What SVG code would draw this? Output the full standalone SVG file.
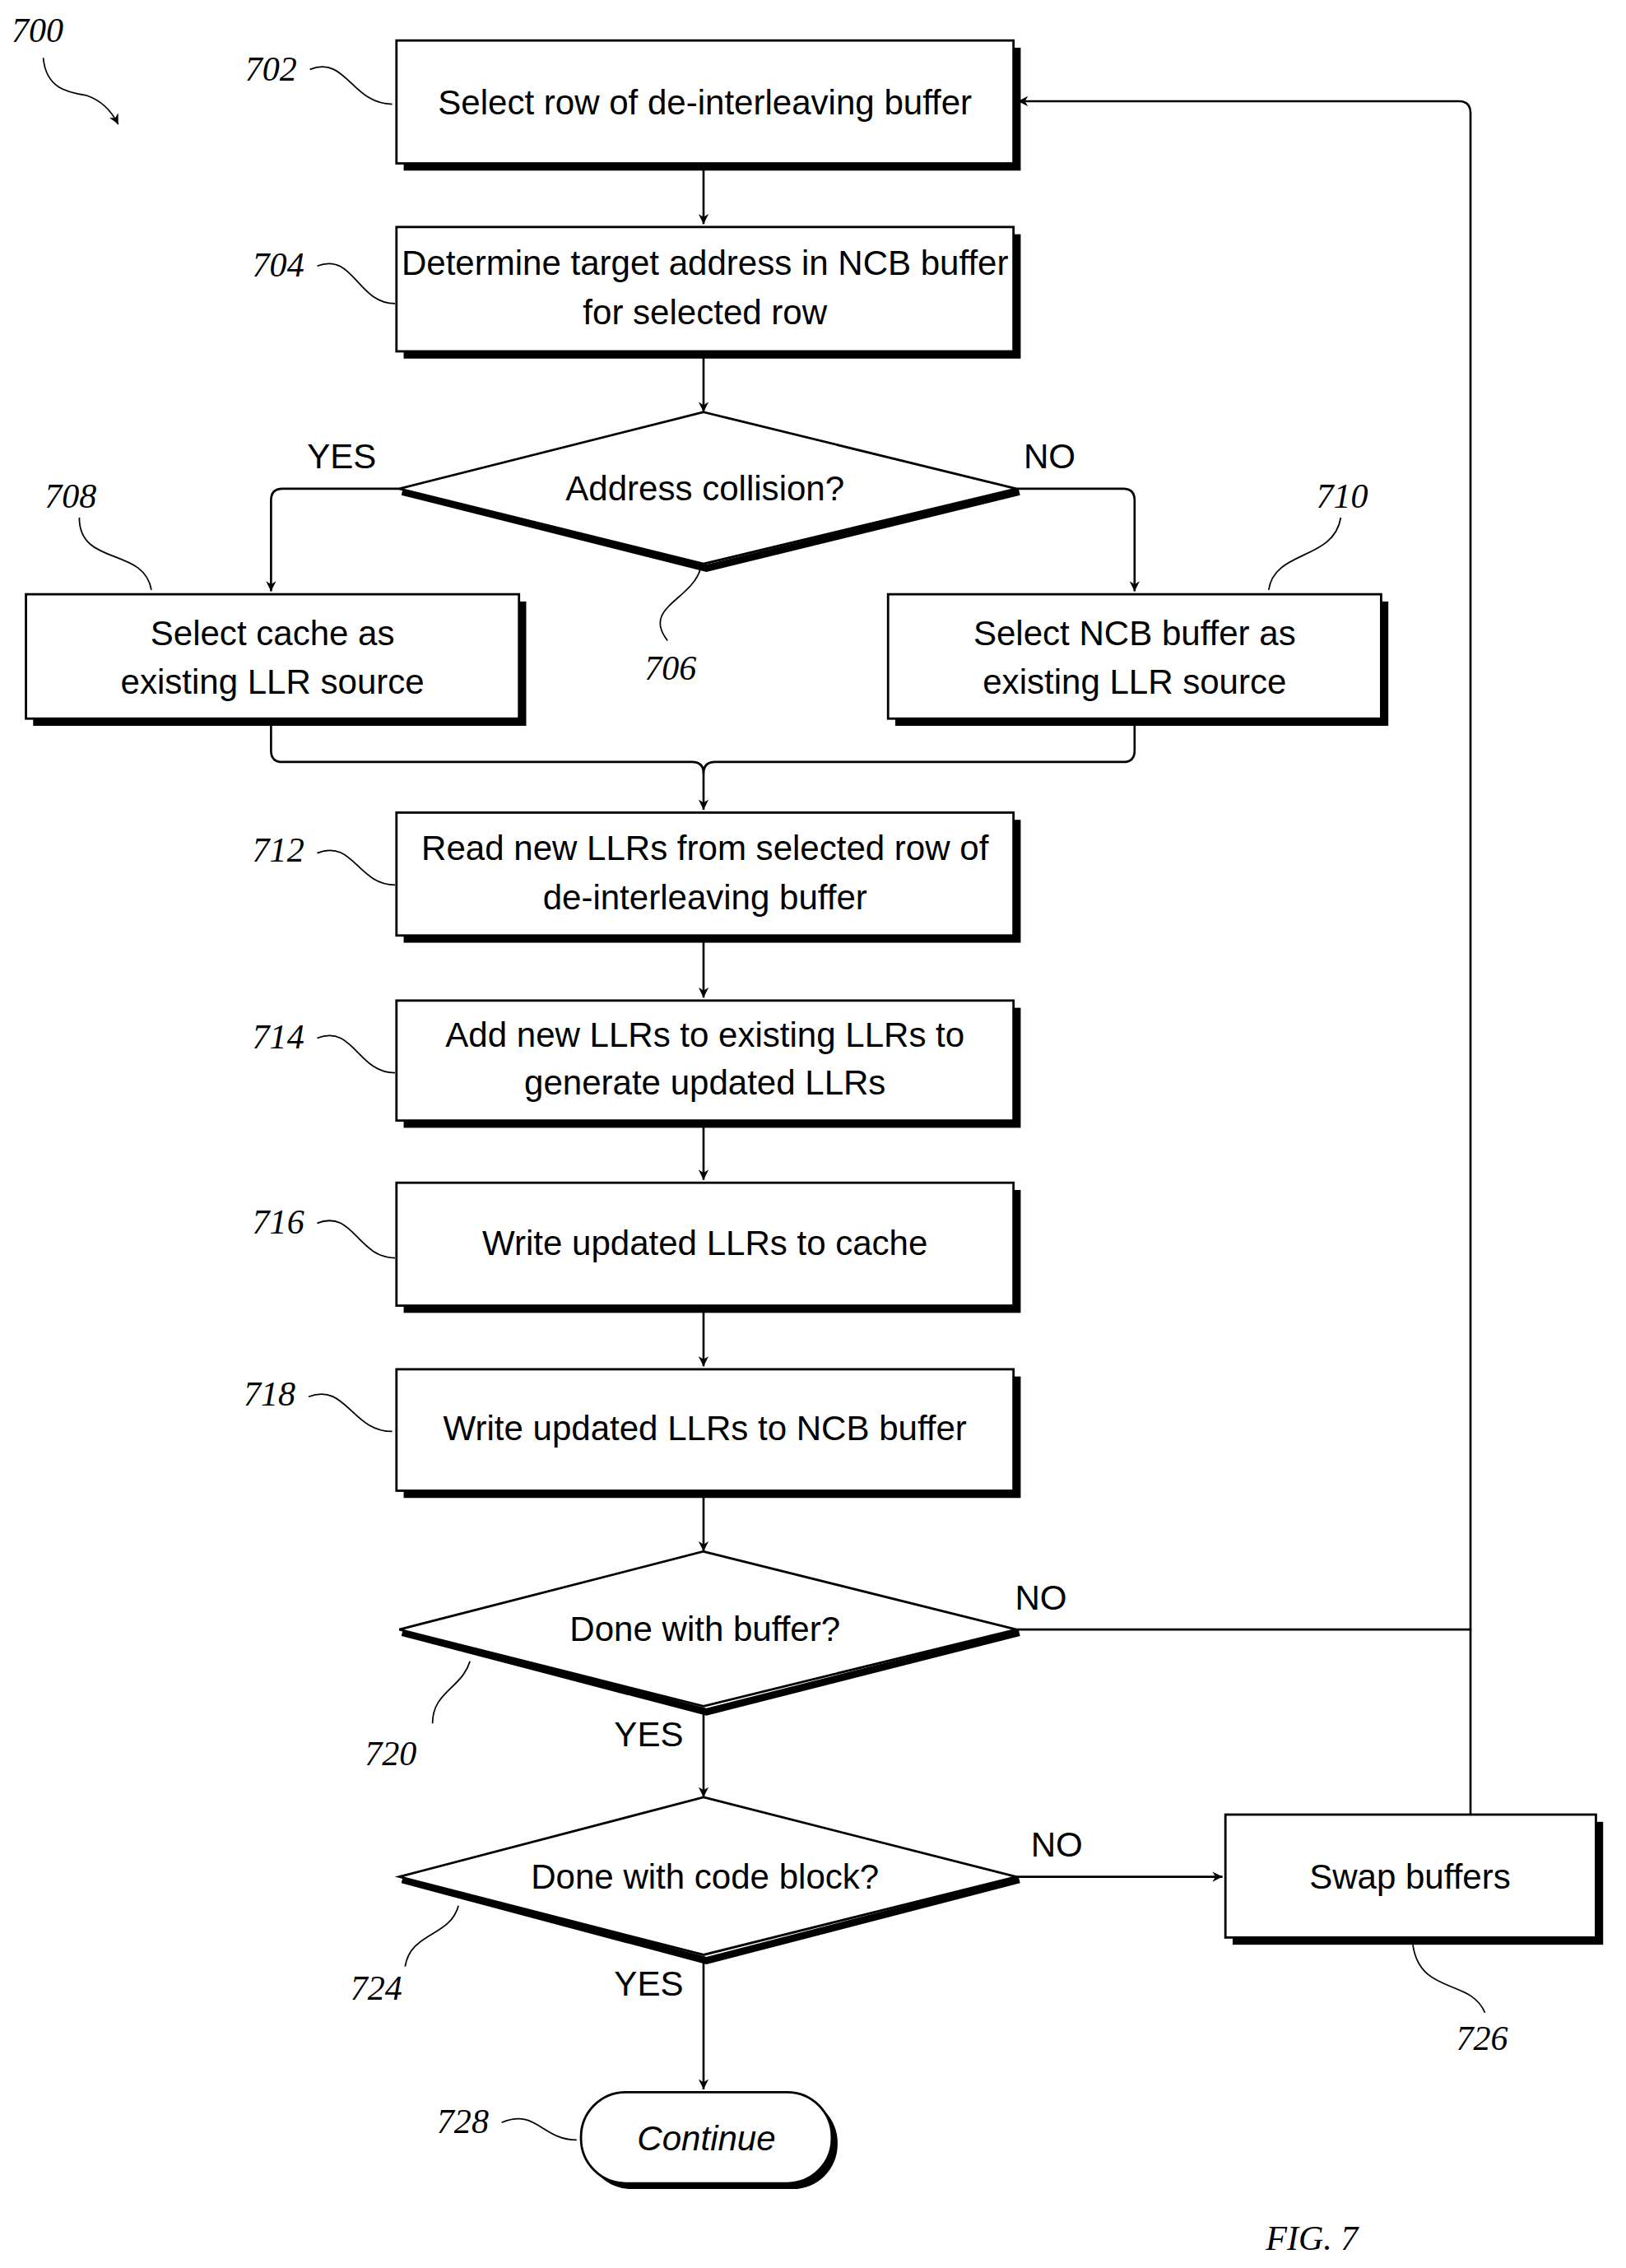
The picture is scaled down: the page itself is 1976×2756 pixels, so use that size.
<svg xmlns="http://www.w3.org/2000/svg" width="1976" height="2756" viewBox="0 0 1976 2756">
<defs>
<marker id="ah" viewBox="0 0 10 10" refX="10" refY="5" markerWidth="7" markerHeight="7" orient="auto" markerUnits="userSpaceOnUse"><path d="M0,0 L10,5 L0,10 L3,5 z" fill="#000"/></marker>
<marker id="ah2" viewBox="0 0 10 10" refX="10" refY="5" markerWidth="12" markerHeight="12" orient="auto" markerUnits="userSpaceOnUse"><path d="M0,0 L10,5 L0,10 L3,5 z" fill="#000"/></marker>
</defs>
<style>
.b{fill:#fff;stroke:#000;stroke-width:1.6}
.s{fill:#000}
.t{font-family:"Liberation Sans Narrow","Liberation Sans",Arial,sans-serif;font-size:24px;text-anchor:middle;fill:#000}
.r{font-family:"Liberation Serif","Times New Roman",serif;font-style:italic;font-size:24px;fill:#000}
.c{fill:none;stroke:#000;stroke-width:1.5}
.q{fill:none;stroke:#000;stroke-width:1}
</style>
<rect width="1976" height="2756" fill="#fff"/>
<g transform="scale(1.752,1.757)">
<g id="connectors">
<path class="c" d="M488,113 V155" marker-end="url(#ah)"/>
<path class="c" d="M488,243 V285" marker-end="url(#ah)"/>
<path class="c" d="M277,338 H196 Q188,338 188,346 V409" marker-end="url(#ah)"/>
<path class="c" d="M705,338 H779 Q787,338 787,346 V409" marker-end="url(#ah)"/>
<path class="c" d="M188,497 V519 Q188,527 196,527 H480 Q488,527 488,535 V560" marker-end="url(#ah)"/>
<path class="c" d="M787,497 V519 Q787,527 779,527 H496 Q488,527 488,535"/>
<path class="c" d="M488,647 V690" marker-end="url(#ah)"/>
<path class="c" d="M488,775 V816" marker-end="url(#ah)"/>
<path class="c" d="M488,903 V945" marker-end="url(#ah)"/>
<path class="c" d="M488,1031 V1073" marker-end="url(#ah)"/>
<path class="c" d="M705,1127 H1020 V78 Q1020,70 1012,70 H706" marker-end="url(#ah)"/>
<path class="c" d="M1020,1255 V1127"/>
<path class="c" d="M488,1182 V1243" marker-end="url(#ah)"/>
<path class="c" d="M705,1298 H848" marker-end="url(#ah)"/>
<path class="c" d="M488,1354 V1445" marker-end="url(#ah)"/>
<text class="t" x="237" y="324">YES</text>
<text class="t" x="728" y="324">NO</text>
<text class="t" x="722" y="1113">NO</text>
<text class="t" x="450" y="1208">YES</text>
<text class="t" x="733" y="1284">NO</text>
<text class="t" x="450" y="1380">YES</text>
</g>
<g id="n700">
<text class="r" x="8" y="29">700</text>
<path class="q" d="M30,40 C32,62 48,64 60,66 C72,70 78,78 82,86" marker-end="url(#ah)"/>
</g>
<g id="n702">
<rect class="s" x="280" y="33" width="428" height="85"/>
<rect class="b" x="275" y="28" width="428" height="85"/>
<text class="t" x="489" y="79">Select row of de-interleaving buffer</text>
<text class="r" x="170" y="56">702</text>
<path class="q" d="M215,48 C240,38 244,72 272,72"/>
</g>
<g id="n704">
<rect class="s" x="280" y="162" width="428" height="86"/>
<rect class="b" x="275" y="157" width="428" height="86"/>
<text class="t" x="489" y="190">Determine target address in NCB buffer</text>
<text class="t" x="489" y="224">for selected row</text>
<text class="r" x="175" y="191">704</text>
<path class="q" d="M220,184 C245,174 248,210 274,210"/>
</g>
<g id="n706">
<path d="M279,340 L490,393 L707,340" fill="none" stroke="#000" stroke-width="5"/>
<polygon class="b" points="488,285 705,338 488,390 277,338"/>
<text class="t" x="489" y="346">Address collision?</text>
<text class="r" x="447" y="470">706</text>
<path class="q" d="M463,443 C445,420 480,415 486,393"/>
</g>
<g id="n708">
<rect class="s" x="23" y="416" width="342" height="86"/>
<rect class="b" x="18" y="411" width="342" height="86"/>
<text class="t" x="189" y="446">Select cache as</text>
<text class="t" x="189" y="480">existing LLR source</text>
<text class="r" x="31" y="351">708</text>
<path class="q" d="M55,358 C55,392 100,378 105,408"/>
</g>
<g id="n710">
<rect class="s" x="621" y="416" width="342" height="86"/>
<rect class="b" x="616" y="411" width="342" height="86"/>
<text class="t" x="787" y="446">Select NCB buffer as</text>
<text class="t" x="787" y="480">existing LLR source</text>
<text class="r" x="913" y="351">710</text>
<path class="q" d="M930,358 C925,388 884,380 880,408"/>
</g>
<g id="n712">
<rect class="s" x="280" y="567" width="428" height="85"/>
<rect class="b" x="275" y="562" width="428" height="85"/>
<text class="t" x="489" y="595">Read new LLRs from selected row of</text>
<text class="t" x="489" y="629">de-interleaving buffer</text>
<text class="r" x="175" y="596">712</text>
<path class="q" d="M220,590 C245,580 248,612 274,612"/>
</g>
<g id="n714">
<rect class="s" x="280" y="697" width="428" height="83"/>
<rect class="b" x="275" y="692" width="428" height="83"/>
<text class="t" x="489" y="724">Add new LLRs to existing LLRs to</text>
<text class="t" x="489" y="757">generate updated LLRs</text>
<text class="r" x="175" y="725">714</text>
<path class="q" d="M220,718 C245,708 248,742 274,742"/>
</g>
<g id="n716">
<rect class="s" x="280" y="823" width="428" height="85"/>
<rect class="b" x="275" y="818" width="428" height="85"/>
<text class="t" x="489" y="868">Write updated LLRs to cache</text>
<text class="r" x="175" y="853">716</text>
<path class="q" d="M220,846 C245,836 248,870 274,870"/>
</g>
<g id="n718">
<rect class="s" x="280" y="952" width="428" height="84"/>
<rect class="b" x="275" y="947" width="428" height="84"/>
<text class="t" x="489" y="996">Write updated LLRs to NCB buffer</text>
<text class="r" x="169" y="972">718</text>
<path class="q" d="M214,966 C240,956 244,990 272,990"/>
</g>
<g id="n720">
<path d="M279,1129 L490,1184 L707,1129" fill="none" stroke="#000" stroke-width="5"/>
<polygon class="b" points="488,1073 705,1127 488,1180 277,1127"/>
<text class="t" x="489" y="1135">Done with buffer?</text>
<text class="r" x="253" y="1221">720</text>
<path class="q" d="M300,1192 C300,1170 320,1168 326,1149"/>
</g>
<g id="n724">
<path d="M279,1300 L490,1356 L707,1300" fill="none" stroke="#000" stroke-width="5"/>
<polygon class="b" points="488,1243 705,1298 488,1352 277,1298"/>
<text class="t" x="489" y="1306">Done with code block?</text>
<text class="r" x="243" y="1383">724</text>
<path class="q" d="M281,1360 C285,1336 312,1340 318,1318"/>
</g>
<g id="n726">
<rect class="s" x="855" y="1260" width="257" height="85"/>
<rect class="b" x="850" y="1255" width="257" height="85"/>
<text class="t" x="978" y="1306">Swap buffers</text>
<text class="r" x="1010" y="1418">726</text>
<path class="q" d="M980,1345 C985,1380 1020,1368 1030,1392"/>
</g>
<g id="n728">
<rect class="s" x="407" y="1451" width="174" height="63" rx="31"/>
<rect class="b" x="403" y="1447" width="174" height="63" rx="31"/>
<text class="t" x="490" y="1487" font-style="italic">Continue</text>
<text class="r" x="303" y="1475">728</text>
<path class="q" d="M348,1468 C372,1458 376,1480 400,1480"/>
</g>
<text class="r" x="878" y="1556" font-size="38">FIG. 7</text>
</g>
</svg>
